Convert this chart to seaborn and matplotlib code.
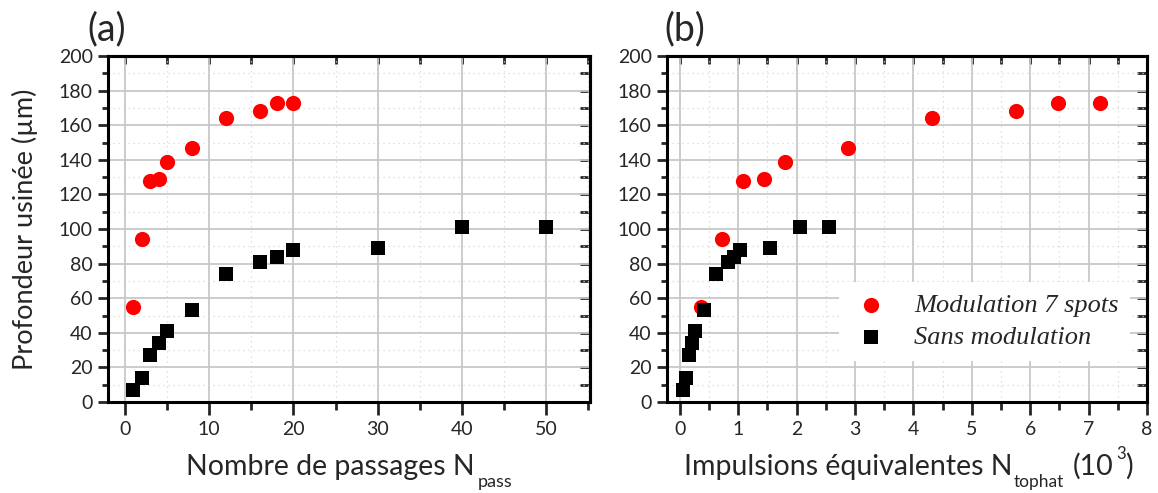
import matplotlib
matplotlib.use("Agg")
import matplotlib.pyplot as plt
import seaborn as sns
import pandas as pd
from matplotlib.ticker import MultipleLocator, NullFormatter

# ---------------- data ----------------
# Panel (a): machined depth vs number of passes
pass_mod = [1, 2, 3, 4, 5, 8, 12, 16, 18, 20]
depth_mod = [55, 94, 128, 129, 139, 147, 164, 168, 173, 173]
pass_nomod = [1, 2, 3, 4, 5, 8, 12, 16, 18, 20, 30, 40, 50]
depth_nomod = [7, 14, 27, 34, 41, 53, 74, 81, 84, 88, 89, 101, 101]

# Panel (b): machined depth vs equivalent pulses (x10^3)
pulses_mod = [0.36, 0.72, 1.08, 1.44, 1.80, 2.88, 4.32, 5.76, 6.48, 7.20]
pulses_nomod = [0.05, 0.10, 0.15, 0.21, 0.26, 0.41, 0.62, 0.82, 0.92, 1.03, 1.54, 2.05, 2.56]

series_labels = ["Modulation 7 spots", "Sans modulation"]
yticks = [0, 20, 40, 60, 80, 100, 120, 140, 160, 180, 200]
xticks_a = [0, 10, 20, 30, 40, 50]
xticks_b = [0, 1, 2, 3, 4, 5, 6, 7, 8]

# ---------------- style ----------------
sns.set_style("white")
plt.rcParams['font.family'] = ['Lato', 'DejaVu Sans']

W, H = 1158, 493
fig = plt.figure(figsize=(W / 100, H / 100), dpi=100)
axA = fig.add_axes([108 / W, 1 - 402 / H, 482 / W, 346 / H])
axB = fig.add_axes([667 / W, 1 - 402 / H, 480 / W, 346 / H])

RED = "#ff0000"
BLACK = "#000000"


def style_axes(ax, xticks, xminor, xlim):
    ax.set_xlim(*xlim)
    ax.set_ylim(0, 200)
    ax.set_xticks(xticks)
    ax.set_yticks(yticks)
    ax.xaxis.set_minor_locator(MultipleLocator(xminor))
    ax.yaxis.set_minor_locator(MultipleLocator(10))
    ax.grid(which='major', color='#c8c8c8', lw=1.3, ls='-')
    ax.grid(which='minor', color='#d6d6d6', lw=0.9, ls=(0, (1, 3)))
    ax.set_axisbelow(True)
    for sp in ax.spines.values():
        sp.set_linewidth(2.2)
        sp.set_color('black')
        sp.set_visible(True)
    ax.tick_params(axis='x', which='major', direction='out', length=9, width=2,
                   labelsize=14, pad=5, bottom=True)
    ax.tick_params(axis='x', which='minor', direction='out', length=5.5, width=2,
                   bottom=True)
    ax.tick_params(axis='y', which='major', direction='out', length=7, width=2,
                   labelsize=14, pad=4, left=True)
    ax.tick_params(axis='y', which='minor', direction='out', length=4.5, width=2,
                   left=True)
    # mirrored inner ticks on top and right
    top = ax.secondary_xaxis('top')
    top.set_xticks(xticks)
    top.xaxis.set_minor_locator(MultipleLocator(xminor))
    top.xaxis.set_major_formatter(NullFormatter())
    top.tick_params(which='both', direction='in', length=6, width=2)
    top.spines['top'].set_linewidth(2.2)
    right = ax.secondary_yaxis('right')
    right.set_yticks(yticks)
    right.yaxis.set_minor_locator(MultipleLocator(10))
    right.yaxis.set_major_formatter(NullFormatter())
    right.tick_params(which='both', direction='in', length=7, width=2)
    right.spines['right'].set_linewidth(2.2)


# ---------------- panel (a) ----------------
sns.scatterplot(x=pass_mod, y=depth_mod, ax=axA, color=RED, marker='o', s=120,
                linewidth=0, label=series_labels[0], legend=False, zorder=3)
sns.scatterplot(x=pass_nomod, y=depth_nomod, ax=axA, color=BLACK, marker='s', s=100,
                linewidth=0, label=series_labels[1], legend=False, zorder=3)
style_axes(axA, xticks_a, 5, (-2.0, 55.2))
axA.set_ylabel("Profondeur usinée (µm)", fontsize=19.5, labelpad=15)

# ---------------- panel (b) ----------------
sns.scatterplot(x=pulses_mod, y=depth_mod, ax=axB, color=RED, marker='o', s=120,
                linewidth=0, label=series_labels[0], zorder=3)
sns.scatterplot(x=pulses_nomod, y=depth_nomod, ax=axB, color=BLACK, marker='s', s=100,
                linewidth=0, label=series_labels[1], zorder=3)
style_axes(axB, xticks_b, 0.5, (-0.22, 8.0))

leg = axB.legend(loc='upper left', bbox_to_anchor=(0.358, 0.347),
                 borderaxespad=0, frameon=True, fancybox=False, framealpha=1,
                 facecolor='white', edgecolor='none', handletextpad=0.9,
                 borderpad=0.45, labelspacing=0.3, handlelength=1.5,
                 prop={'family': 'Liberation Serif', 'style': 'italic', 'size': 19})
leg.set_zorder(5)

# ---------------- x labels and panel tags ----------------
def px(x, y):
    return x / W, 1 - y / H

fig.text(*px(475, 475), "Nombre de passages N", ha='right', va='baseline', fontsize=20.5)
fig.text(*px(478, 487), "pass", ha='left', va='baseline', fontsize=13)

fig.text(*px(1012, 475), "Impulsions équivalentes N", ha='right', va='baseline', fontsize=20.5)
fig.text(*px(1014, 487), "tophat", ha='left', va='baseline', fontsize=12.5)
fig.text(*px(1073, 475), "(10", ha='left', va='baseline', fontsize=20.5)
fig.text(*px(1116, 459), "3", ha='left', va='baseline', fontsize=12)
fig.text(*px(1125, 475), ")", ha='left', va='baseline', fontsize=20.5)

fig.text(*px(87, 40), "(a)", ha='left', va='baseline', fontsize=27)
fig.text(*px(664, 40), "(b)", ha='left', va='baseline', fontsize=27)

fig.savefig("out.png", dpi=100)
